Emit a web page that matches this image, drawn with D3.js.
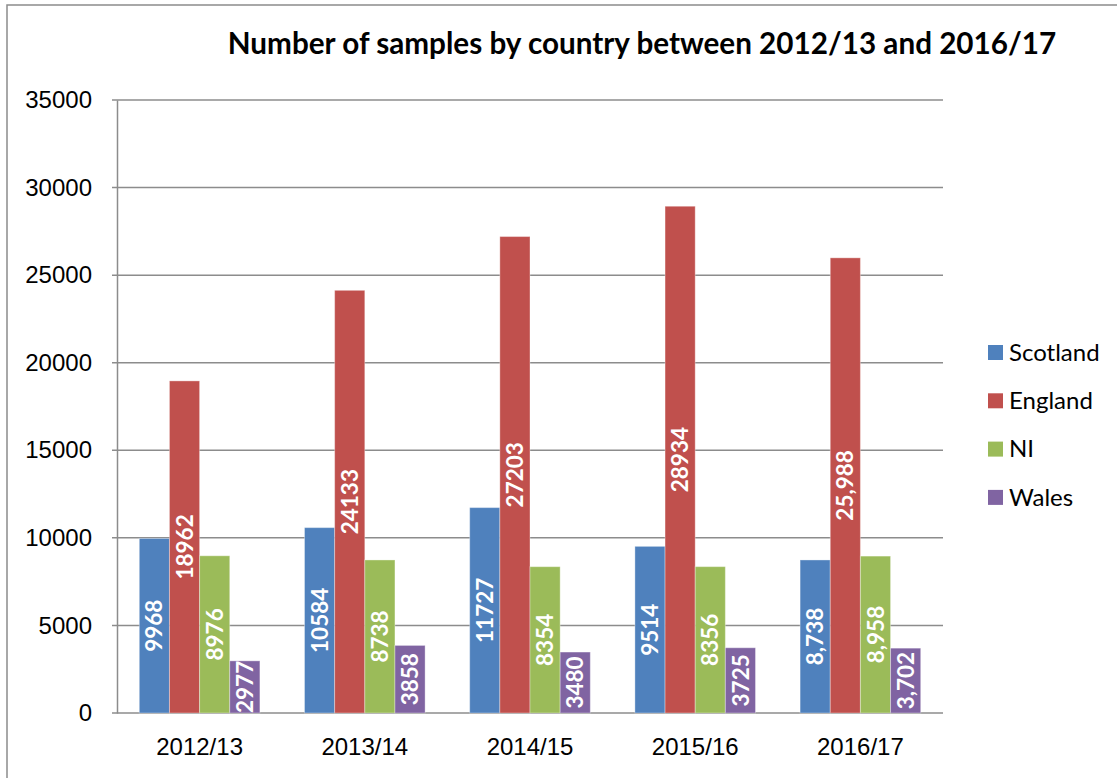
<!DOCTYPE html>
<html>
<head>
<meta charset="utf-8">
<script src="https://cdn.jsdelivr.net/npm/d3@7"></script>
<style>
  body { margin: 0; background: #fff; }
  svg { display: block; font-family: Lato, "Open Sans", sans-serif; }
</style>
</head>
<body>
<div id="chart"></div>
<script>
const years = ["2012/13", "2013/14", "2014/15", "2015/16", "2016/17"];
const countries = ["Scotland", "England", "NI", "Wales"];
const scotland = [9968, 10584, 11727, 9514, 8738];
const england = [18962, 24133, 27203, 28934, 25988];
const ni = [8976, 8738, 8354, 8356, 8958];
const wales = [2977, 3858, 3480, 3725, 3702];
const yTicks = [0, 5000, 10000, 15000, 20000, 25000, 30000, 35000];
// the last year's labels are printed with thousands separators
const labelFormats = ["d", "d", "d", "d", ","];

const colors = ["#4f81bd", "#c0504d", "#9bbb59", "#8064a2"];
const seriesValues = [scotland, england, ni, wales];

const width = 1117, height = 778;
const margin = { top: 100, right: 174, bottom: 65, left: 117 };
const plotW = width - margin.left - margin.right;
const plotH = height - margin.top - margin.bottom;

const svg = d3.select("#chart").append("svg")
  .attr("width", width)
  .attr("height", height);

// outer chart frame
svg.append("rect")
  .attr("x", 7).attr("y", 5)
  .attr("width", width + 10).attr("height", height + 10)
  .attr("fill", "none").attr("stroke", "#8c8c8c").attr("stroke-width", 1.5);

const g = svg.append("g").attr("transform", `translate(${margin.left},${margin.top})`);

const x0 = d3.scaleBand().domain(years).range([0, plotW]).paddingInner(0.27).paddingOuter(0.135);
const x1 = d3.scaleBand().domain(countries).range([0, x0.bandwidth()]);
const y = d3.scaleLinear().domain([0, 35000]).range([plotH, 0]);

// gridlines
g.append("g")
  .selectAll("line")
  .data(yTicks)
  .enter().append("line")
  .attr("x1", -5).attr("x2", plotW)
  .attr("y1", d => y(d)).attr("y2", d => y(d))
  .attr("stroke", "#8c8c8c").attr("stroke-width", 1.5);

// y axis
const yAxis = g.append("g")
  .call(d3.axisLeft(y).tickValues(yTicks).tickFormat(d3.format("d")).tickSize(0).tickPadding(25));
yAxis.select(".domain").attr("stroke", "#8c8c8c").attr("stroke-width", 1.5);
yAxis.selectAll("text").attr("font-size", 24).attr("fill", "#000");

// x axis
const xAxis = g.append("g")
  .attr("transform", `translate(0,${plotH})`)
  .call(d3.axisBottom(x0).tickSize(0).tickPadding(25));
xAxis.select(".domain").remove();
xAxis.selectAll("text").attr("font-size", 24).attr("fill", "#000");

// bars
const groups = g.append("g")
  .selectAll("g")
  .data(years)
  .enter().append("g")
  .attr("transform", d => `translate(${x0(d)},0)`);

const cells = groups.selectAll("g")
  .data((yr, i) => countries.map((c, k) => ({ c, k, v: seriesValues[k][i], fmt: labelFormats[i] })))
  .enter().append("g");

cells.append("rect")
  .attr("x", d => x1(d.c))
  .attr("y", d => y(d.v))
  .attr("width", x1.bandwidth())
  .attr("height", d => plotH - y(d.v))
  .attr("fill", d => colors[d.k])
  .attr("stroke", "#fff").attr("stroke-opacity", 0.35).attr("stroke-width", 1);

cells.append("text")
  .attr("transform", d => `translate(${x1(d.c) + x1.bandwidth() / 2},${(y(d.v) + plotH) / 2}) rotate(-90)`)
  .attr("text-anchor", "middle")
  .attr("dy", "0.36em")
  .attr("fill", "#fff")
  .attr("font-weight", "bold")
  .attr("font-size", 22.5)
  .text(d => d3.format(d.fmt)(d.v));

// title
const title = svg.append("text")
  .attr("x", 642).attr("y", 54)
  .attr("text-anchor", "middle")
  .attr("font-weight", "bold")
  .attr("font-size", 25)
  .text("Number of samples by country between 2012/13 and 2016/17");
const tw = title.node().getComputedTextLength();
title.attr("font-size", 25 * 829 / tw);

// legend
const legend = svg.append("g").attr("transform", "translate(988,352)");
const items = legend.selectAll("g")
  .data(countries)
  .enter().append("g")
  .attr("transform", (d, i) => `translate(0,${i * 48.3})`);
items.append("rect")
  .attr("x", 0).attr("y", -7)
  .attr("width", 15).attr("height", 15)
  .attr("fill", (d, i) => colors[i]);
items.append("text")
  .attr("x", 21).attr("dy", "0.36em")
  .attr("font-size", 24)
  .text(d => d);
</script>
</body>
</html>
